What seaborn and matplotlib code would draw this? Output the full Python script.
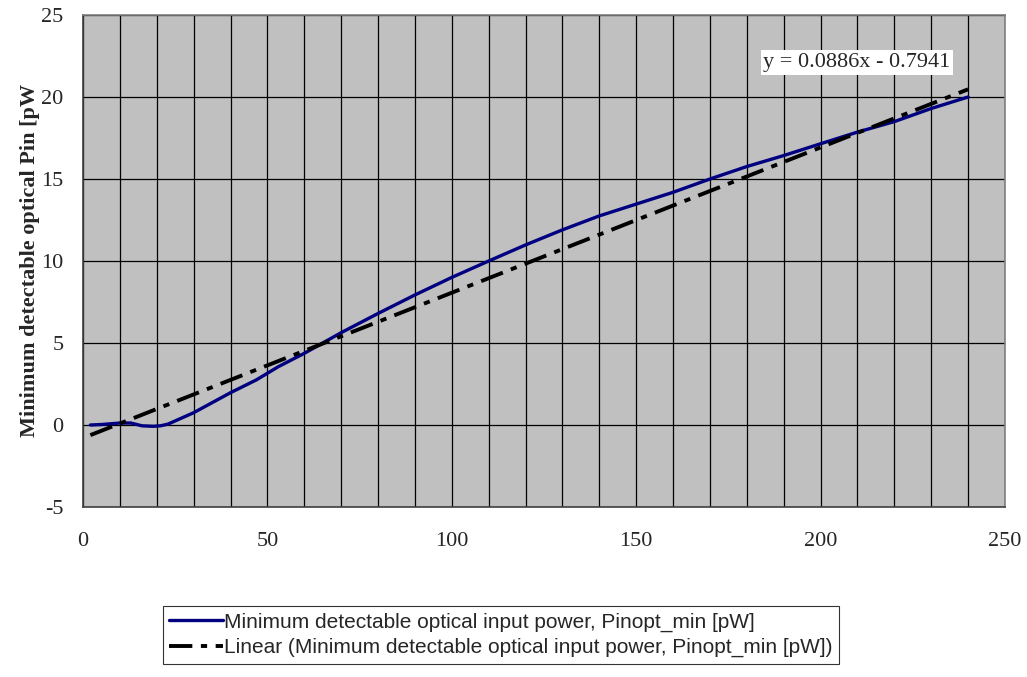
import matplotlib
matplotlib.use("Agg")
import matplotlib.pyplot as plt
import seaborn as sns
import numpy as np
import pandas as pd
from matplotlib.ticker import MultipleLocator

# ---- data ----
x_vals = [2, 5, 10, 13, 16, 19, 21, 23, 30, 40, 47, 53, 60, 70, 80, 90, 100,
          110, 120, 130, 140, 150, 160, 170, 180, 190, 200, 210, 220, 230, 240]
y_vals = [0.0, 0.03, 0.12, 0.12, -0.05, -0.08, -0.05, 0.05, 0.75, 1.97, 2.75, 3.56,
          4.37, 5.63, 6.8, 7.93, 9.0, 10.0, 10.98, 11.9, 12.75, 13.47, 14.19, 15.0,
          15.76, 16.43, 17.15, 17.86, 18.5, 19.3, 20.0]
trend_slope = 0.0886
trend_intercept = -0.7941
series_label = "Minimum detectable optical input power, Pinopt_min [pW]"
trend_label = "Linear (Minimum detectable optical input power, Pinopt_min [pW])"
equation_text = "y = 0.0886x - 0.7941"
y_label = "Minimum detectable optical Pin [pW"
x_ticks = [0, 50, 100, 150, 200, 250]
y_ticks = [-5, 0, 5, 10, 15, 20, 25]

df = pd.DataFrame({"x": x_vals, "y": y_vals})
tx = np.array([x_vals[0], x_vals[-1]], dtype=float)
df_trend = pd.DataFrame({"x": tx, "y": trend_slope * tx + trend_intercept})

sns.set_style("white")
plt.rcParams["font.family"] = ["Liberation Serif", "DejaVu Serif"]
plt.rcParams["axes.unicode_minus"] = False

fig = plt.figure(figsize=(10.27, 6.77), dpi=100)
ax = fig.add_axes([83 / 1027, 1 - 507 / 677, (1005 - 83) / 1027, (507 - 15) / 677])
ax.set_facecolor("#c0c0c0")

sns.lineplot(data=df, x="x", y="y", ax=ax, color="#000080", linewidth=2.4,
             label=series_label, zorder=3)
sns.lineplot(data=df_trend, x="x", y="y", ax=ax, color="black", linewidth=2.8,
             label=trend_label, zorder=4)
ax.lines[1].set_dashes((6.0, 2.2, 1.6, 2.2))

ax.set_xlim(0, 250)
ax.set_ylim(-5, 25)
ax.set_xticks(x_ticks)
ax.set_yticks(y_ticks)
ax.xaxis.set_minor_locator(MultipleLocator(10))
ax.grid(False)
ax.grid(True, which="minor", axis="x", color="black", linewidth=0.9)
ax.grid(True, which="major", axis="x", color="black", linewidth=0.9)
ax.grid(True, which="major", axis="y", color="black", linewidth=0.9)
ax.set_axisbelow(True)
ax.tick_params(axis="x", which="minor", length=0)
ax.tick_params(axis="both", which="major", length=6, width=1, color="#404040",
               direction="out", labelsize=16)
ax.tick_params(axis="y", pad=8)
ax.tick_params(axis="x", pad=12)
for lab in ax.get_xticklabels() + ax.get_yticklabels():
    lab.set_fontfamily(["Liberation Serif", "DejaVu Serif"])

for side in ["top", "right"]:
    ax.spines[side].set_color("#808080")
    ax.spines[side].set_linewidth(1.2)
for side in ["left", "bottom"]:
    ax.spines[side].set_color("#404040")
    ax.spines[side].set_linewidth(1.2)
    ax.spines[side].set_visible(True)

ax.set_xlabel("")
ax.set_ylabel("")
fig.text(0.029, 1 - 437 / 677, y_label, rotation=90, ha="center", va="bottom",
         fontsize=16, fontweight="bold", family=["Liberation Serif", "DejaVu Serif"])

eq = fig.text(857 / 1027, 1 - 62.5 / 677, equation_text, fontsize=16,
              ha="center", va="center", zorder=10)
eq.set_bbox(dict(facecolor="white", edgecolor="none", pad=2.0))

leg = ax.legend(loc="center", bbox_to_anchor=(501 / 1027, 1 - 635 / 677),
                bbox_transform=fig.transFigure, frameon=True, fancybox=False,
                edgecolor="black", handlelength=2.6, handletextpad=0.05,
                borderpad=0.3, labelspacing=0.3, borderaxespad=0,
                prop={"family": ["Liberation Sans", "DejaVu Sans"], "size": 15})
leg.get_frame().set_linewidth(0.8)

fig.savefig("out.png", dpi=100, facecolor="white")
